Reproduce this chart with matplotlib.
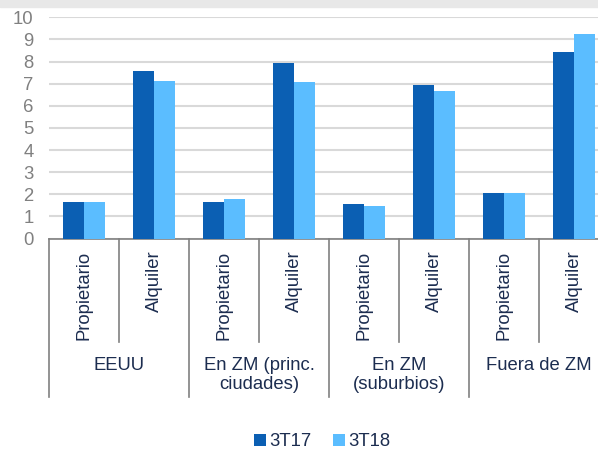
import numpy as np
import matplotlib
matplotlib.use('Agg')
import matplotlib.pyplot as plt
from matplotlib.patches import Rectangle

plt.rcParams['font.family'] = ['Liberation Sans', 'DejaVu Sans']

groups = ["EEUU", "En ZM (princ.\nciudades)", "En ZM\n(suburbios)", "Fuera de ZM"]
subcats = ["Propietario", "Alquiler"]
t17 = [1.65, 7.55, 1.65, 7.92, 1.54, 6.95, 2.07, 8.45]
t18 = [1.65, 7.13, 1.80, 7.07, 1.48, 6.65, 2.07, 9.24]
series = ["3T17", "3T18"]

c17 = '#0b5fb3'
c18 = '#5bbdff'
navy = '#1c2d50'
gray = '#808080'

W, H = 598, 451
fig = plt.figure(figsize=(W / 100, H / 100), dpi=100)
# franja gris de arriba
fig.patches.append(Rectangle((0, 1 - 7 / H), 1, 7 / H, transform=fig.transFigure,
                             color='#e8e8e8', zorder=0))

left, right = 49, 609
y0, y10 = 238.5, 17.3
ax = fig.add_axes([left / W, 1 - y0 / H, (right - left) / W, (y0 - y10) / H])
axh = y0 - y10

x = np.arange(len(t17))
bw = 0.3
ax.bar(x - bw / 2, t17, bw, color=c17, zorder=3, label=series[0])
ax.bar(x + bw / 2, t18, bw, color=c18, zorder=3, label=series[1])

ax.set_xlim(-0.5, 7.5)
ax.set_ylim(0, 10)
ax.set_yticks(range(0, 11))
ax.yaxis.grid(True, color='#d9d9d9', linewidth=1.5, zorder=0)
ax.set_axisbelow(True)
ax.tick_params(axis='y', length=0, pad=11, labelsize=13.3, labelcolor=gray)
ax.set_xticks([])
for s in ['top', 'right', 'left']:
    ax.spines[s].set_visible(False)
ax.spines['bottom'].set_color(gray)
ax.spines['bottom'].set_linewidth(1.2)

# eje de categorias en dos niveles
tr = ax.get_xaxis_transform()
sub_bottom = -(342 - y0) / axh
grp_bottom = -(397 - y0) / axh
for k in range(4):
    xs = 2 * k - 0.5
    ax.plot([xs, xs], [0, grp_bottom], transform=tr, color=gray, lw=1.2, clip_on=False)
    xm = 2 * k + 0.5
    ax.plot([xm, xm], [0, sub_bottom], transform=tr, color=gray, lw=1.2, clip_on=False)
    ax.text(2 * k + 0.5, -(357 - y0) / axh, groups[k], transform=tr, ha='center', va='top',
            fontsize=13.3, color=navy, linespacing=1.12, multialignment='center')
for i in range(len(t17)):
    ax.text(i, -(250.5 - y0) / axh, subcats[i % 2], transform=tr, rotation=90,
            ha='center', va='top', fontsize=13.3, color=navy)

fig.legend(loc='center', bbox_to_anchor=(322 / W, 1 - 442 / H), ncol=2, frameon=False,
           fontsize=13.3, handlelength=0.65, handleheight=0.65, handletextpad=0.15,
           columnspacing=1.2, labelcolor=navy)

fig.savefig('out.png', dpi=100)
